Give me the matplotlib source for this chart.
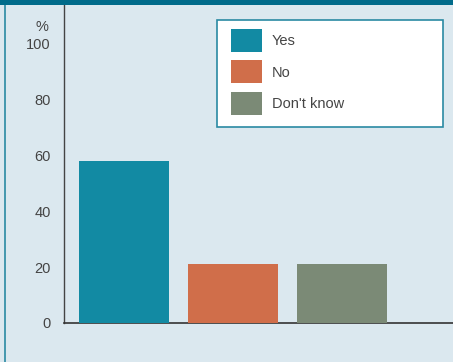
import matplotlib
matplotlib.use("Agg")
import matplotlib.pyplot as plt
from matplotlib.patches import Rectangle
from matplotlib.lines import Line2D

categories = ["Yes", "No", "Don't know"]
values = [58, 21, 21]
colors = ["#128aa3", "#d06e4a", "#7b8a76"]
yticks = [0, 20, 40, 60, 80, 100]

W, H = 453, 362
FS = 10.5
fig = plt.figure(figsize=(W / 100, H / 100), dpi=100)
bg = "#dbe8ef"
fig.patch.set_facecolor(bg)
plt.rcParams['font.family'] = ['Liberation Sans', 'DejaVu Sans']

# frame decorations
fig.patches.append(Rectangle((0, 1 - 5 / H), 1, 5 / H, transform=fig.transFigure,
                             facecolor="#006b8a", edgecolor="none", zorder=5))
fig.lines.append(Line2D([4.5 / W, 4.5 / W], [0, 1], transform=fig.transFigure,
                        color="#2a8aa3", lw=1.2))

ax = fig.add_axes([64 / W, 1 - 323 / H, (W - 64) / W, (323 - 5) / H])
ax.set_facecolor(bg)
x = list(range(len(categories)))
bars = ax.bar(x, values, width=0.82, color=colors, label=categories, zorder=3)
ax.set_xlim(-0.55, 3.02)
ax.set_ylim(0, 113.6)
ax.set_yticks(yticks)
ax.set_yticklabels([str(t) for t in yticks], fontsize=FS, color="#444444")
ax.tick_params(axis="y", length=0, pad=9.5)
ax.set_xticks([])
for s in ["top", "right"]:
    ax.spines[s].set_visible(False)
ax.spines["left"].set_color("#444444")
ax.spines["bottom"].set_color("#333333")
ax.spines["left"].set_linewidth(1.0)
ax.spines["bottom"].set_linewidth(1.2)

ax.text(-22 / 389, 105.6, "%", transform=ax.get_yaxis_transform(), ha="center",
        va="center", fontsize=FS, color="#444444")

# legend frame drawn separately
fig.patches.append(Rectangle((217 / W, 1 - 127 / H), 226 / W, 107 / H,
                             transform=fig.transFigure, facecolor="white",
                             edgecolor="#2a8aa3", linewidth=1.2, zorder=6))
leg = ax.legend(handles=bars.patches, labels=categories, loc="upper left",
                bbox_to_anchor=(231 / W, 1 - 29 / H),
                bbox_transform=fig.transFigure,
                borderaxespad=0, fontsize=FS, frameon=False,
                handlelength=2.12, handleheight=2.05, handletextpad=0.68,
                labelspacing=0.58, borderpad=0)
leg.set_zorder(7)
leg.remove()
fig.legends.append(leg)
leg.set_figure(fig)
for t in leg.get_texts():
    t.set_color("#444444")

fig.savefig("out.png", dpi=100, facecolor=bg)
